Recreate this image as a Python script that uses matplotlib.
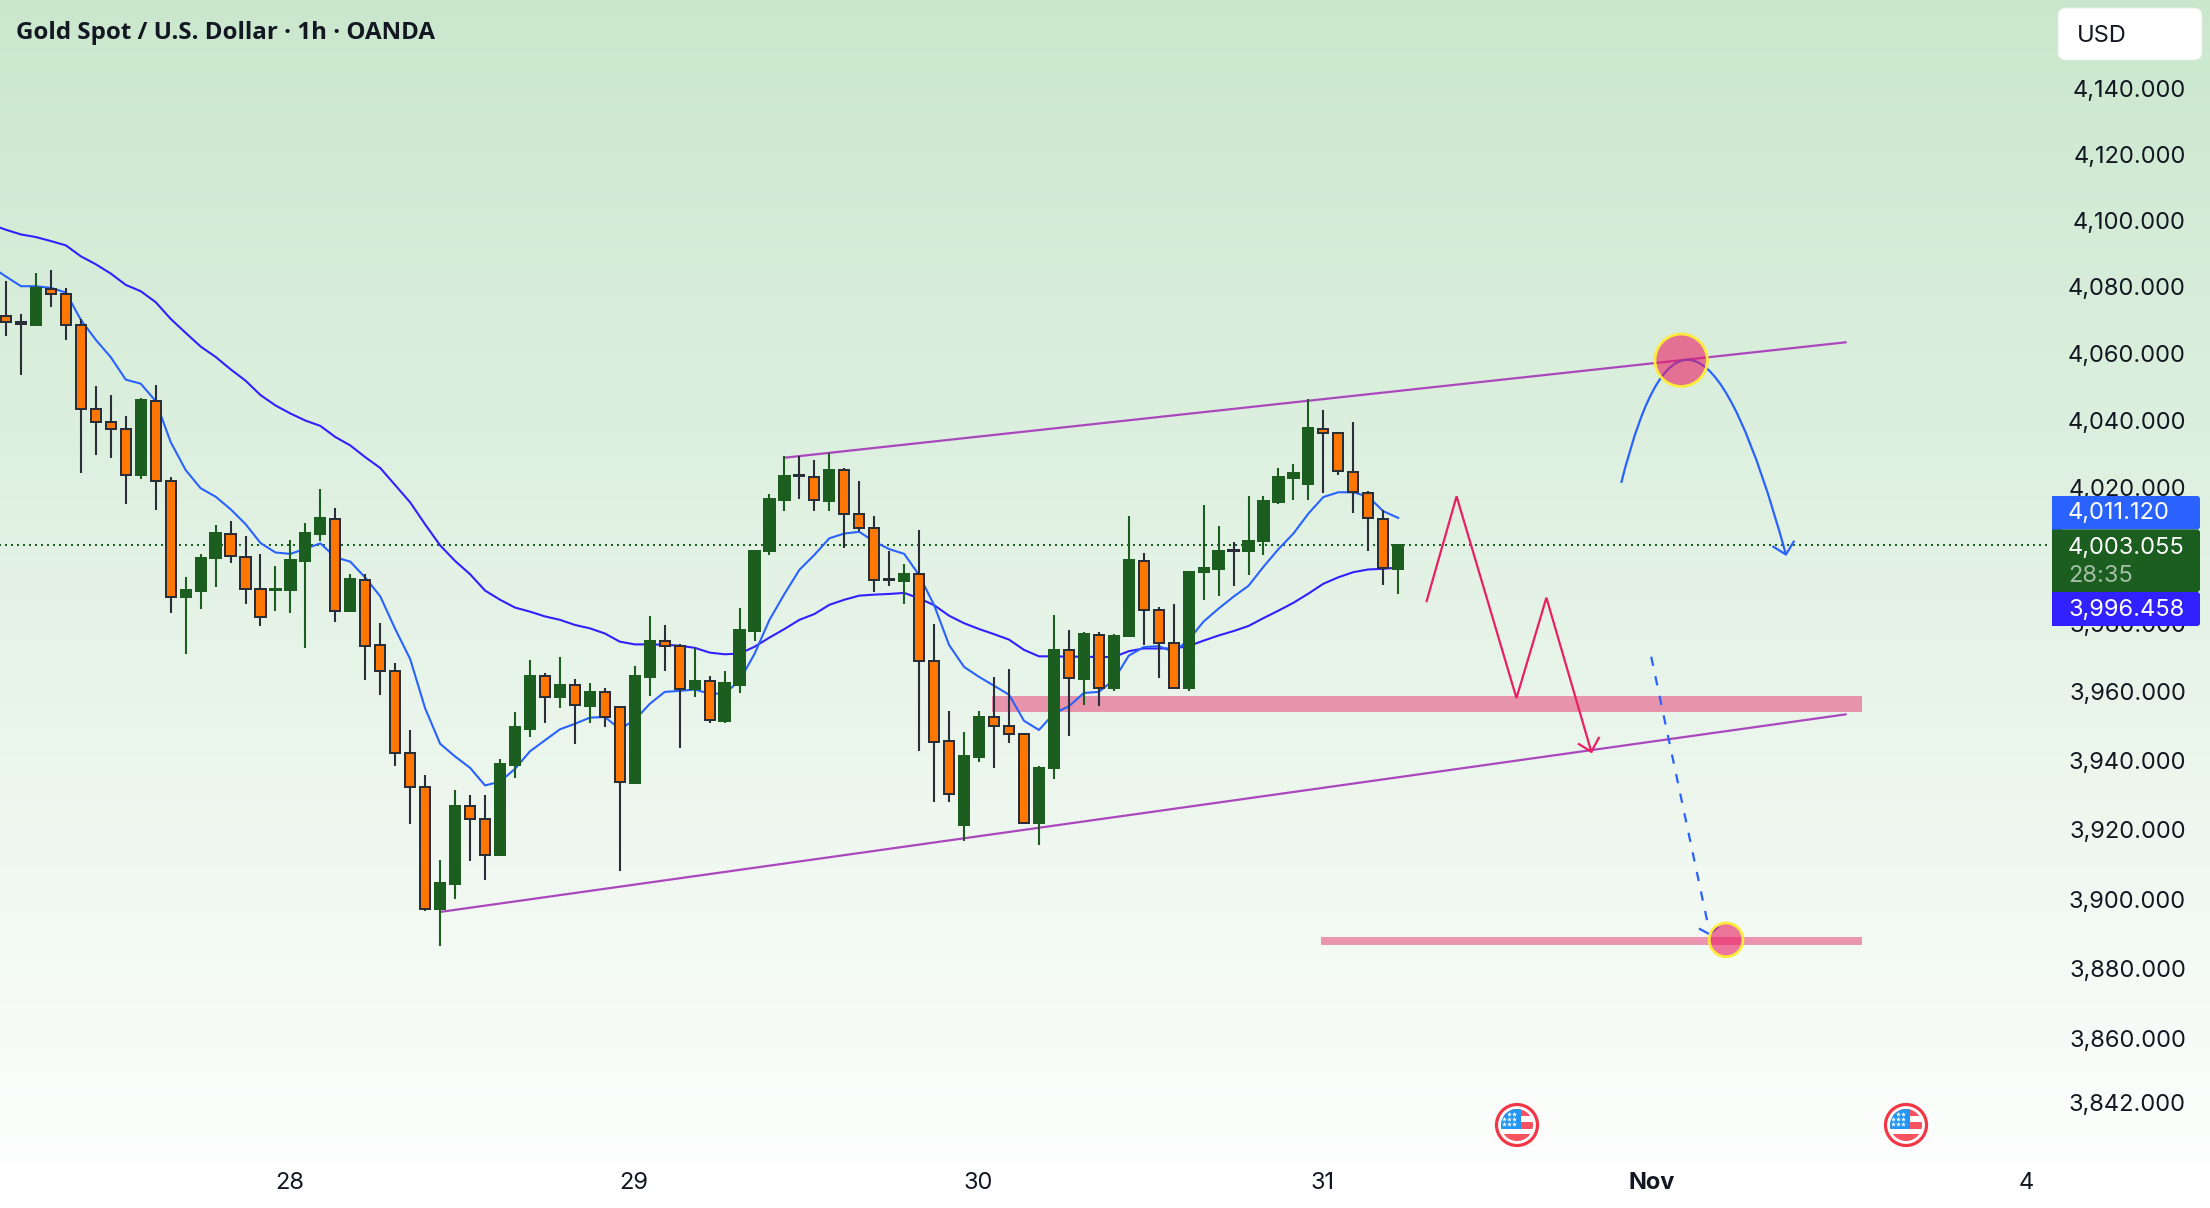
import numpy as np
import matplotlib
matplotlib.use("Agg")
import matplotlib.pyplot as plt
from matplotlib.patches import Circle, FancyBboxPatch, PathPatch, Rectangle
from matplotlib.path import Path
from matplotlib.ticker import NullLocator

plt.rcParams["font.family"] = ["Inter", "DejaVu Sans"]

# XAUUSD hourly candles
opens = [4071.4, 4069.6, 4068.5, 4079.5, 4078.0, 4068.7, 4043.3, 4039.7, 4037.4, 4023.8,
         4045.9, 4022.1, 3987.7, 3989.5, 3999.2, 4006.5, 3999.6, 3990.2, 3989.9, 3989.8,
         3998.3, 4006.4, 4010.9, 3983.7, 3992.9, 3973.7, 3966.2, 3942.3, 3932.4, 3897.1,
         3904.3, 3926.7, 3923.2, 3912.7, 3938.6, 3949.3, 3964.6, 3958.4, 3962.0, 3956.0,
         3960.0, 3955.6, 3933.6, 3964.5, 3974.8, 3973.4, 3960.8, 3963.1, 3951.6, 3962.1,
         3977.9, 4001.3, 4016.5, 4023.8, 4023.2, 4016.2, 4025.3, 4012.3, 4008.1, 3993.1,
         3992.4, 3994.5, 3969.0, 3945.7, 3921.4, 3941.0, 3952.7, 3950.1, 3947.7, 3921.8,
         3937.8, 3972.2, 3963.8, 3976.6, 3961.1, 3976.3, 3998.4, 3983.9, 3974.3, 3961.1,
         3995.1, 3996.0, 4001.7, 4001.3, 4004.3, 4015.8, 4022.9, 4021.1, 4037.5, 4036.2,
         4024.6, 4018.4, 4010.7, 3996.0]
highs = [4081.7, 4071.9, 4084.2, 4085.0, 4079.6, 4070.4, 4050.3, 4047.6, 4041.4, 4046.7,
         4050.6, 4023.3, 3993.6, 4000.4, 4009.0, 4010.2, 4005.8, 4000.4, 3996.8, 4004.5,
         4009.6, 4019.6, 4014.0, 3994.5, 3994.5, 3980.2, 3968.4, 3948.9, 3935.8, 3911.2,
         3931.5, 3930.0, 3930.0, 3940.4, 3954.1, 3969.4, 3965.4, 3970.3, 3963.9, 3962.7,
         3961.0, 3955.8, 3967.7, 3982.3, 3979.7, 3974.1, 3972.7, 3964.7, 3966.2, 3984.7,
         4001.3, 4018.3, 4029.5, 4029.5, 4028.4, 4030.3, 4025.8, 4022.1, 4011.7, 4001.2,
         3997.6, 4007.6, 3979.8, 3954.3, 3948.4, 3954.3, 3964.3, 3966.6, 3948.1, 3938.3,
         3982.4, 3978.0, 3977.4, 3977.4, 3976.8, 4011.6, 4000.9, 3984.9, 3985.6, 3995.3,
         4014.8, 4008.6, 4003.9, 4017.7, 4017.5, 4025.8, 4027.0, 4046.3, 4043.0, 4036.6,
         4039.5, 4019.1, 4013.6, 4003.3]
lows = [4065.3, 4053.5, 4068.5, 4073.9, 4064.1, 4024.5, 4029.7, 4028.8, 4015.2, 4022.5,
        4013.4, 3983.1, 3971.2, 3984.2, 3990.7, 3997.7, 3985.7, 3979.3, 3983.7, 3983.1,
        3972.7, 4004.2, 3980.5, 3983.4, 3963.4, 3959.0, 3938.3, 3921.6, 3896.7, 3886.4,
        3900.0, 3910.9, 3905.4, 3912.3, 3934.9, 3947.0, 3951.0, 3955.2, 3944.9, 3950.8,
        3949.7, 3908.1, 3933.6, 3958.9, 3966.0, 3943.8, 3958.4, 3950.8, 3950.8, 3959.8,
        3974.8, 4000.3, 4013.2, 4016.8, 4013.2, 4013.2, 4002.1, 4007.1, 3989.4, 3991.1,
        3985.8, 3942.7, 3927.9, 3927.9, 3916.8, 3939.5, 3938.0, 3945.0, 3921.7, 3915.6,
        3934.7, 3947.1, 3956.2, 3955.8, 3960.2, 3976.1, 3973.7, 3964.1, 3961.2, 3960.2,
        3986.9, 3988.0, 3990.9, 3994.4, 4000.1, 4015.1, 4016.3, 4016.3, 4018.6, 4023.7,
        4012.7, 4001.2, 3991.2, 3988.8]
closes = [4069.6, 4069.0, 4079.6, 4078.0, 4068.7, 4043.3, 4039.7, 4037.4, 4023.9, 4046.1,
          4022.1, 3987.9, 3989.8, 3999.2, 4006.7, 3999.8, 3990.2, 3981.8, 3990.2, 3998.6,
          4006.7, 4011.1, 3983.8, 3993.0, 3973.4, 3966.2, 3942.3, 3932.4, 3897.2, 3904.5,
          3926.8, 3923.2, 3912.7, 3938.9, 3949.8, 3964.7, 3958.6, 3962.1, 3956.2, 3960.1,
          3952.7, 3933.9, 3964.7, 3975.0, 3973.5, 3960.8, 3963.3, 3951.8, 3962.7, 3978.2,
          4001.3, 4016.8, 4023.6, 4023.6, 4016.4, 4025.4, 4012.3, 4008.2, 3992.8, 3992.7,
          3994.7, 3969.1, 3945.5, 3930.4, 3941.2, 3952.8, 3950.2, 3947.8, 3921.8, 3938.0,
          3972.4, 3964.0, 3976.8, 3961.0, 3976.5, 3998.6, 3984.1, 3974.4, 3961.2, 3995.3,
          3996.2, 4001.4, 4001.3, 4004.4, 4016.0, 4023.2, 4024.3, 4037.7, 4036.3, 4024.9,
          4018.9, 4011.0, 3996.2, 4003.055]

# moving averages, first value belongs to the bar before the first candle
fast_ma = [4086.1, 4083.1, 4080.2, 4080.2, 4079.7, 4078.3, 4070.1, 4064.1, 4058.9, 4052.2,
           4051.0, 4045.8, 4033.6, 4025.3, 4019.9, 4017.4, 4013.7, 4009.3, 4003.7, 4000.9,
           4000.5, 4002.0, 4003.6, 3999.5, 3998.2, 3993.5, 3988.0, 3978.4, 3969.6, 3955.2,
           3944.9, 3941.2, 3937.9, 3932.8, 3933.9, 3937.6, 3942.7, 3945.9, 3949.1, 3950.7,
           3952.5, 3952.7, 3949.2, 3951.8, 3956.5, 3960.0, 3960.3, 3960.7, 3959.5, 3959.5,
           3963.3, 3971.1, 3981.1, 3988.7, 3995.8, 4000.2, 4005.1, 4006.5, 4007.0, 4004.1,
           4001.9, 4000.5, 3994.2, 3985.4, 3973.7, 3967.3, 3964.4, 3961.8, 3959.2, 3951.6,
           3948.9, 3953.7, 3955.8, 3959.7, 3960.0, 3963.5, 3970.6, 3973.1, 3973.4, 3971.7,
           3975.2, 3980.6, 3984.4, 3987.9, 3991.1, 3996.7, 4001.9, 4006.5, 4012.4, 4017.3,
           4018.7, 4018.7, 4017.4, 4013.1, 4011.12]
slow_ma = [4098.8, 4097.2, 4095.8, 4095.0, 4093.8, 4092.5, 4089.2, 4086.8, 4084.0, 4080.6,
           4078.7, 4075.4, 4070.4, 4066.2, 4062.1, 4059.0, 4055.3, 4051.9, 4047.6, 4044.5,
           4042.1, 4040.0, 4038.4, 4035.1, 4032.6, 4029.1, 4025.9, 4020.8, 4015.7, 4009.2,
           4003.0, 3998.4, 3994.5, 3989.7, 3987.0, 3984.7, 3983.5, 3982.1, 3981.1, 3979.6,
           3978.6, 3977.1, 3974.7, 3973.9, 3973.9, 3973.8, 3973.5, 3972.9, 3971.5, 3971.0,
           3971.2, 3973.2, 3975.9, 3978.4, 3981.1, 3982.8, 3985.5, 3987.0, 3988.2, 3988.5,
           3988.7, 3989.0, 3987.4, 3985.4, 3982.3, 3980.1, 3978.4, 3976.9, 3975.3, 3972.3,
           3970.4, 3970.4, 3970.3, 3970.3, 3970.2, 3970.2, 3971.9, 3972.7, 3972.7, 3972.7,
           3973.4, 3975.0, 3976.5, 3977.8, 3979.3, 3981.6, 3983.8, 3986.1, 3988.8, 3991.7,
           3993.6, 3995.1, 3995.9, 3996.1, 3996.458]

price_ticks = [4140, 4120, 4100, 4080, 4060, 4040, 4020, 4000, 3980, 3960, 3940, 3920, 3900, 3880, 3860, 3842]
day_ticks = [18.95, 41.95, 64.95, 87.95, 109.95, 134.95]
day_labels = ["28", "29", "30", "31", "Nov", "4"]

# drawings on the chart: (bar, price) pairs
upper_bar, upper_price = [51.9, 122.96], [4028.9, 4063.4]
lower_bar, lower_price = [29.0, 122.96], [3896.3, 3953.5]
zigzag_bar = [94.9, 96.9, 100.9, 102.9, 105.9]
zigzag_price = [3986.6, 4017.5, 3958.2, 3987.6, 3942.6]
zigzag_head_bar = [105.07, 105.9, 106.4]
zigzag_head_price = [3944.8, 3942.6, 3946.6]
arc_bar = [107.9, 112.5, 118.9]
arc_price = [4021.5, 4104.7, 4000.3]
arc_head_bar = [118.06, 118.9, 119.42]
arc_head_price = [4002.6, 4000.3, 4004.1]
dash_bar = [109.9, 113.65]
dash_price = [3970.3, 3893.5]
dash_head_bar = [113.15, 113.8, 114.36]
dash_head_price = [3891.4, 3889.9, 3892.0]
zone_bars = [(65.85, 124.0), (87.84, 124.0)]
zone_prices = [(3954.2, 3958.9), (3886.7, 3889.0)]
circle_bars = [111.9, 114.9]
circle_prices = [4058.0, 3888.3]

# colours
GREEN = "#1b5e20"
ORANGE = "#ff7600"
DARK = "#2a2e39"
BLUE = "#2962ff"
INDIGO = "#3120ff"
PURPLE = "#ab47bc"
PINK = "#e91e63"
TEXT = "#131722"

W, H = 2210, 1208
BAR_PX = 14.97
FIRST_BAR_PX = 6
PX_PER_LOG = 13568


def price_at(px):
    return 4140 * np.exp(-(px - 88.8) / PX_PER_LOG)


fig = plt.figure(figsize=(W / 100, H / 100), dpi=100)

# green wash from top to bottom
bg = fig.add_axes([0, 0, 1, 1], zorder=0)
top_colour = np.array([202, 231, 205]) / 255
wash = np.linspace(0, 1, H)[:, None, None] * (1 - top_colour) + top_colour
bg.imshow(wash, aspect="auto", extent=(0, W, H, 0))
bg.axis("off")

ax = fig.add_axes([0, 0, 1, 1], zorder=1)
ax.patch.set_visible(False)
ax.set_yscale("log")
ax.set_xlim(-FIRST_BAR_PX / BAR_PX, (W - FIRST_BAR_PX) / BAR_PX)
ax.set_ylim(price_at(H), price_at(0))
for s in ax.spines.values():
    s.set_visible(False)

ax.yaxis.set_minor_locator(NullLocator())
ax.yaxis.tick_right()
ax.set_yticks(price_ticks, [f"{p:,.3f}" for p in price_ticks])
ax.tick_params(axis="y", length=0, pad=-17.3, labelsize=17, labelcolor=TEXT)
for lab in ax.get_yticklabels():
    lab.set_ha("right")
ax.set_xticks(day_ticks, day_labels)
ax.tick_params(axis="x", length=0, pad=-26, labelsize=17, labelcolor=TEXT)
for lab in ax.get_xticklabels():
    lab.set_va("top")
ax.get_xticklabels()[4].set_fontweight("bold")

# pink zones
for (b0, b1), (p0, p1) in zip(zone_bars, zone_prices):
    ax.fill_between([b0, b1], p0, p1, color="#e8437a", alpha=0.55, lw=0, zorder=1)

# last price line
last_close = closes[-1]
ax.hlines(last_close, -1, (2048 - FIRST_BAR_PX) / BAR_PX, color=GREEN, lw=1.44,
          linestyles=(0, (1, 2)), zorder=1.2)

# moving averages
ma_x = np.arange(-1, len(opens))
ax.plot(ma_x, slow_ma, color=INDIGO, lw=1.5, zorder=2)
ax.plot(ma_x, fast_ma, color=BLUE, lw=1.5, zorder=2)

# channel lines
ax.plot(upper_bar, upper_price, color=PURPLE, lw=1.6, zorder=2.2, solid_capstyle="butt")
ax.plot(lower_bar, lower_price, color=PURPLE, lw=1.6, zorder=2.2, solid_capstyle="butt")

# candles
x = np.arange(len(opens))
o = np.array(opens)
c = np.array(closes)
up = c >= o
ax.vlines(x[up], np.array(lows)[up], np.array(highs)[up], color=GREEN, lw=1.5, zorder=3)
ax.vlines(x[~up], np.array(lows)[~up], np.array(highs)[~up], color=DARK, lw=1.5, zorder=3)
body_low = np.minimum(o, c)
body_size = np.abs(c - o)
ax.bar(x[up], body_size[up], bottom=body_low[up], width=0.68, color=GREEN,
       edgecolor=GREEN, linewidth=1.44, zorder=3.1)
ax.bar(x[~up], body_size[~up], bottom=body_low[~up], width=0.68, color=ORANGE,
       edgecolor=DARK, linewidth=1.44, zorder=3.1)

# red zigzag path
ax.plot(zigzag_bar, zigzag_price, color=PINK, lw=1.6, zorder=4, solid_joinstyle="miter")
ax.plot(zigzag_head_bar, zigzag_head_price, color=PINK, lw=1.6, zorder=4)

# blue curve and dashed line
curve = Path(list(zip(arc_bar, arc_price)), [Path.MOVETO, Path.CURVE3, Path.CURVE3])
ax.add_patch(PathPatch(curve, fc="none", ec=BLUE, lw=1.6, zorder=4))
ax.plot(arc_head_bar, arc_head_price, color=BLUE, lw=1.6, zorder=4)
ax.plot(dash_bar, dash_price, color=BLUE, lw=1.6, zorder=4, linestyle=(0, (4.2, 4.8)))
ax.plot(dash_head_bar, dash_head_price, color=BLUE, lw=1.6, zorder=4)

# target circles
ax.scatter(circle_bars, circle_prices, s=[1420, 590], facecolors=[(0.914, 0.118, 0.388, 0.6)],
           edgecolors="#ffeb3b", linewidths=2, zorder=5)

ax.set_xlim(-FIRST_BAR_PX / BAR_PX, (W - FIRST_BAR_PX) / BAR_PX)
ax.set_ylim(price_at(H), price_at(0))

# title, price scale badges and event flags, laid out in pixels
ui = fig.add_axes([0, 0, 1, 1], zorder=2)
ui.patch.set_visible(False)
ui.set_xlim(0, W)
ui.set_ylim(H, 0)
ui.axis("off")

ui.text(15.5, 33, "Gold Spot / U.S. Dollar · 1h · OANDA", fontsize=17.4, fontweight="bold",
        family=["Open Sans", "DejaVu Sans"], color=TEXT, va="center")

ui.add_patch(FancyBboxPatch((2058, 8), 144, 52, boxstyle="round,pad=0,rounding_size=8",
                            fc="white", ec="#e6eee6", lw=0.6))
ui.text(2077, 36, "USD", fontsize=17, color=TEXT, va="center")


def badge(y0, y1, colour):
    ui.add_patch(FancyBboxPatch((2052, y0), 148, y1 - y0, boxstyle="round,pad=0,rounding_size=3",
                                fc=colour, ec="none"))
    ui.add_patch(Rectangle((2052, y0), 10, y1 - y0, fc=colour, ec="none"))


badge(496, 529.5, BLUE)
badge(529.5, 592, GREEN)
badge(592, 626, INDIGO)
ui.text(2068, 513, f"{fast_ma[-1]:,.3f}", fontsize=17, color="white", va="center")
ui.text(2068, 547.5, f"{last_close:,.3f}", fontsize=17, color="white", va="center")
ui.text(2068, 575.5, "28:35", fontsize=17, color="#a4bfa6", va="center")
ui.text(2068, 609.5, f"{slow_ma[-1]:,.3f}", fontsize=17, color="white", va="center")


def flag(cx, cy):
    ui.add_patch(Circle((cx, cy), 20.5, fc="white", ec="#f23645", lw=2.3))
    clip = Circle((cx, cy), 16, transform=ui.transData)
    for y0, h, col in [(-16, 6.5, "#f7525f"), (-9.5, 6, "white"), (-3.5, 7.5, "#f7525f"),
                       (4, 5, "white"), (9, 8, "#f7525f")]:
        ui.add_patch(Rectangle((cx - 16, cy + y0), 32, h, fc=col, ec="none", clip_path=clip))
    ui.add_patch(Rectangle((cx - 16, cy - 16), 20, 20, fc="#2196f3", ec="none", clip_path=clip))
    sx = [cx - 8, cx - 3, cx - 13, cx - 8, cx - 3, cx - 13, cx - 8, cx - 3]
    sy = [cy - 11, cy - 11, cy - 6, cy - 6, cy - 6, cy - 1, cy - 1, cy - 1]
    ui.scatter(sx, sy, s=14, marker="*", color="white", lw=0, zorder=3)


flag(1517, 1125)
flag(1906, 1125)

fig.savefig("out.png", dpi=100)
